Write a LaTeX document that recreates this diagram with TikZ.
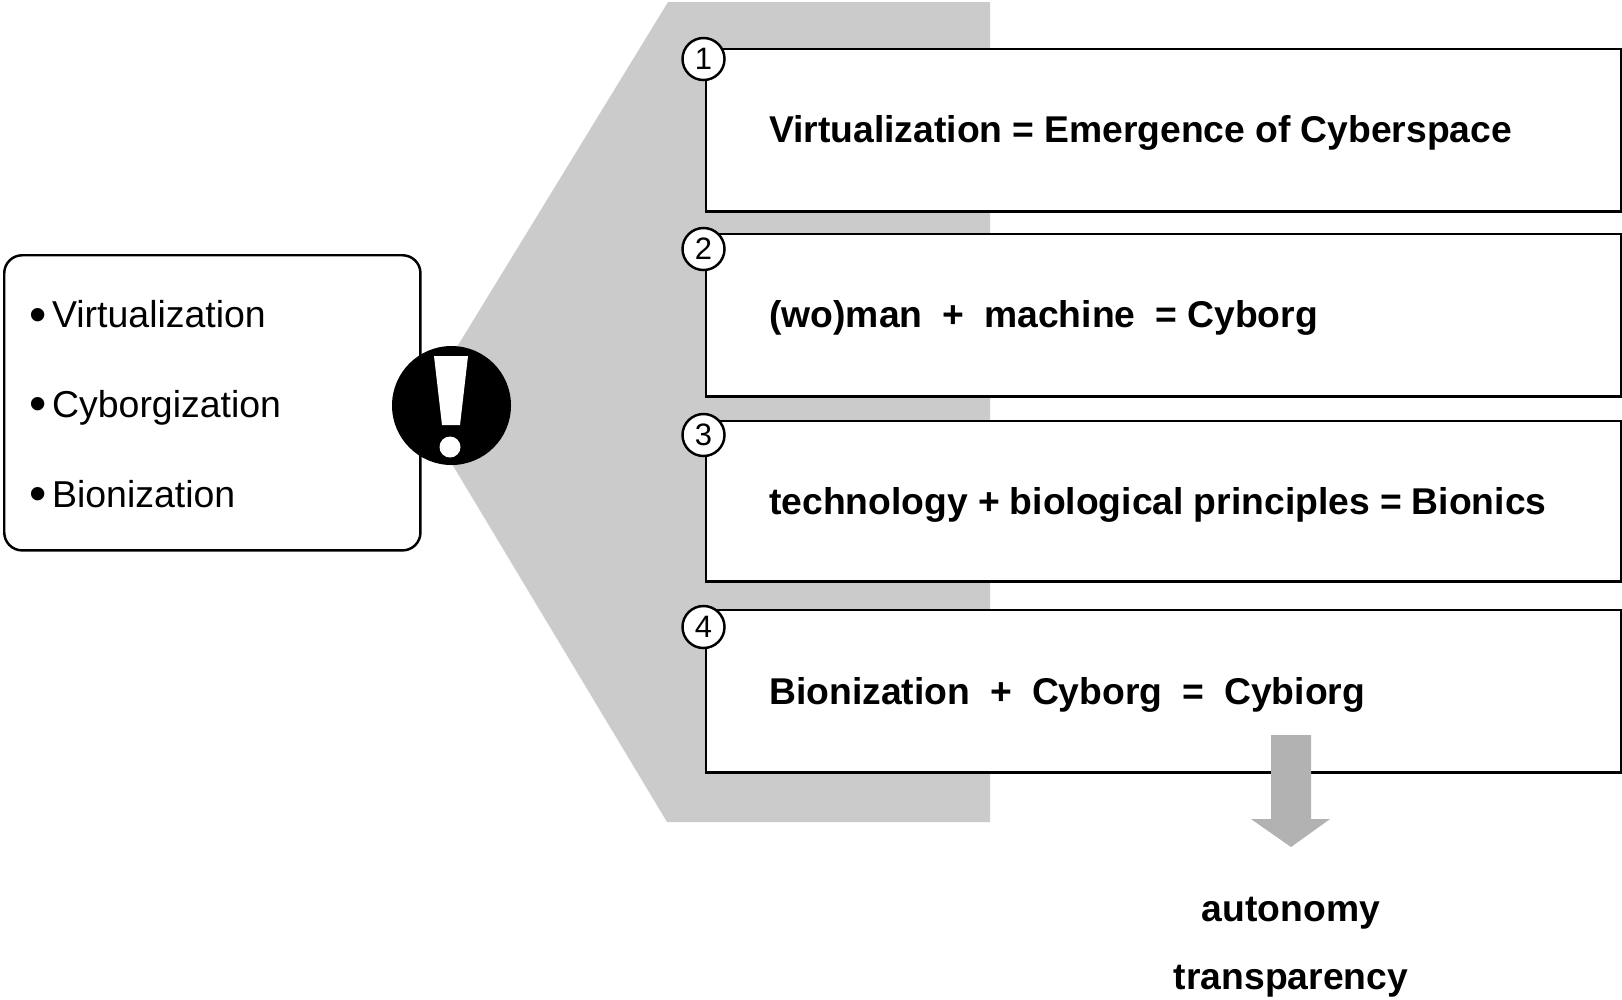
\documentclass[tikz,border=0pt]{standalone}
\usepackage{fontspec}
\setmainfont{Liberation Sans}
\definecolor{wedgegray}{HTML}{CBCBCB}
\definecolor{arrowgray}{HTML}{B2B2B2}
\newcommand{\topicdot}{\smash{\raisebox{-1pt}{\fontsize{14}{14}\selectfont\textbullet}}\hspace{1.6pt}}
\tikzset{
    stepbox/.style={draw=black,line width=0.7pt,fill=white,rectangle,anchor=north west,minimum width=9.14cm,
        text width=7.88cm,inner xsep=0.63cm,inner ysep=0pt,align=left,text height=7.5pt,text depth=0pt,
        font=\fontsize{10.6}{12}\selectfont\bfseries,execute at begin node={\spaceskip=2.85pt\relax}},
    numcircle/.style={draw=black,line width=0.7pt,fill=white,circle,minimum size=0.42cm,inner sep=0pt,
        font=\fontsize{8.8}{10}\selectfont},
    resultlabel/.style={anchor=base,inner sep=0pt,font=\fontsize{10.6}{12}\selectfont\bfseries},
}

\begin{document}
\begin{tikzpicture}[x=0.01cm,y=-0.01cm]
        \useasboundingbox (0,0) rectangle (1622,999);

        \fill[wedgegray] (668,2) -- (990,2) -- (990,822) -- (667,822) -- (419,409) -- cycle;

        \node[draw=black,line width=0.7pt,fill=white,rectangle,rounded corners=0.18cm,anchor=north west,
            minimum width=4.16cm,minimum height=2.95cm,text width=3.66cm,inner xsep=0.25cm,align=left,
            text height=8.4pt,font=\fontsize{10.65}{25.5}\selectfont] (topics) at (3,254)
            {\topicdot Virtualization\\ \topicdot Cyborgization\\ \topicdot Bionization};

        \fill[black] (451.5,405.5) circle (59.5);
        \fill[white] (434,356) -- (468,356) -- (460,425) -- (442,425) -- cycle;
        \fill[white] (450,447) circle (10.5);

        \node[stepbox,minimum height=1.62cm,text height=7pt] (virtual) at (705,48) {Virtualization = Emergence of Cyberspace};
        \node[stepbox,minimum height=1.62cm,text height=7pt] (cyborg) at (705,233) {(wo)man \ + \ machine \ = Cyborg};
        \node[stepbox,minimum height=1.60cm] (bionics) at (705,420) {technology + biological principles = Bionics};
        \node[stepbox,minimum height=1.62cm] (cybiorg) at (705,609) {Bionization \ + \ Cyborg \ = \ Cybiorg};

        \node[numcircle] (num1) at (703.5,59) {1};
        \node[numcircle] (num2) at (703.5,249) {2};
        \node[numcircle] (num3) at (703.5,435) {3};
        \node[numcircle] (num4) at (703.5,627) {4};

        \fill[arrowgray] (1271,735) -- (1311,735) -- (1311,819) -- (1330,819) -- (1291,847) -- (1251,819) -- (1271,819) -- cycle;

        \node[resultlabel] (autonomy) at (1291,921) {autonomy};
        \node[resultlabel] (transparency) at (1291,989) {transparency};
\end{tikzpicture}
\end{document}
